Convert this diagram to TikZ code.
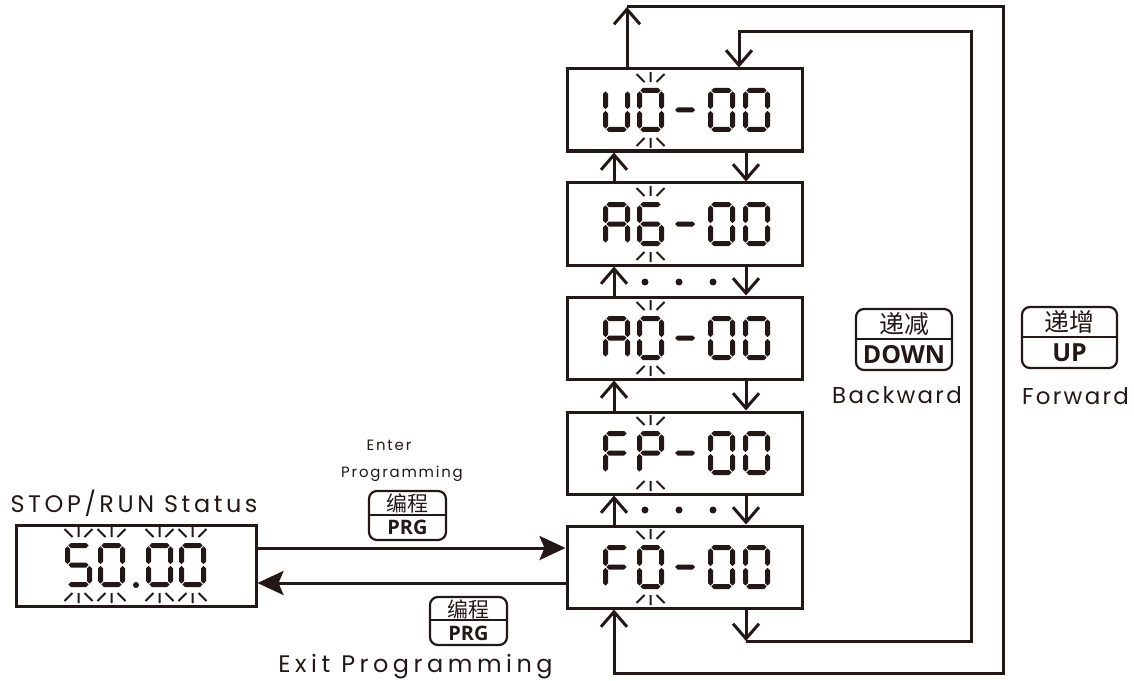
\documentclass[tikz,border=0pt]{standalone}
\usepackage{fontspec}
\usetikzlibrary{arrows.meta}
\newfontfamily\lblfont[LetterSpace=15]{Poppins}
\newfontfamily\exitfont[LetterSpace=19]{Poppins}
\newfontfamily\bfont[LetterSpace=10]{Poppins}
\newfontfamily\sfont[LetterSpace=12]{Poppins}
\newfontfamily\keyfont{Open Sans}
\newfontfamily\cjkfont{Noto Sans CJK SC}
\definecolor{ink}{RGB}{35,24,21}
% seven segment helpers
\newcommand\hseg[3]{\fill[ink] (#1,#3) -- (#1+2.5,#3-2.5) -- (#2-2.5,#3-2.5) -- (#2,#3) -- (#2-2.5,#3+2.5) -- (#1+2.5,#3+2.5) -- cycle;}
\newcommand\vseg[3]{\fill[ink] (#1,#2) -- (#1+2.5,#2+2.5) -- (#1+2.5,#3-2.5) -- (#1,#3) -- (#1-2.5,#3-2.5) -- (#1-2.5,#2+2.5) -- cycle;}
\newcommand\dsega{\hseg{3.3}{23.7}{2.5}}
\newcommand\dsegb{\vseg{24.5}{3.3}{21.2}}
\newcommand\dsegc{\vseg{24.5}{22.8}{40.7}}
\newcommand\dsegd{\hseg{3.3}{23.7}{41.5}}
\newcommand\dsege{\vseg{2.5}{22.8}{40.7}}
\newcommand\dsegf{\vseg{2.5}{3.3}{21.2}}
\newcommand\dsegg{\hseg{3.3}{23.7}{22}}
\newcommand\dgt[3]{\begin{scope}[shift={(#1,#2)}]\foreach \s in {#3}{\csname dseg\s\endcsname}\end{scope}}
\newcommand\blinkmarks[2]{\begin{scope}[shift={(#1,#2)}]
  \draw[blk] (-14,-36) -- (-6,-28) (0,-38) -- (0,-28) (14,-36) -- (6,-28)
             (-14,36) -- (-6,28) (0,38) -- (0,28) (14,36) -- (6,28);
  \end{scope}}
\newcommand\dispbox[4]{%
  \node[disp] (#1) at (684.5,#2) {};
  \dgt{603}{#2-22}{#3}
  \dgt{637}{#2-22}{#4}
  \hseg{675}{695}{#2}
  \dgt{708}{#2-22}{a,b,c,d,e,f}
  \dgt{743}{#2-22}{a,b,c,d,e,f}
  \blinkmarks{650.5}{#2}}
\newcommand\keyicon[9]{%
  \node[keyb, minimum width=#4bp, minimum height=#5bp] (#1) at (#2,#3) {};
  \draw[line width=2bp, draw=ink] ([yshift=0.8bp]#1.west) -- ([yshift=0.8bp]#1.east);
  \node[inner sep=0, text=ink, font=\cjkfont\fontsize{#8}{#8}\selectfont] (#1zh) at ([yshift={#5bp/4}]#1.center) {#6};
  \node[inner sep=0, text=ink, font=\keyfont\bfseries\fontsize{#9}{#9}\selectfont] (#1en) at ([yshift={-#5bp/4}]#1.center) {#7};}
\begin{document}
\begin{tikzpicture}[x=1bp,y=-1bp,
  disp/.style={draw=ink, line width=3bp, minimum width=235bp, minimum height=82bp, inner sep=0},
  keyb/.style={draw=ink, line width=2.2bp, rounded corners=8bp, inner sep=0},
  conn/.style={draw=ink, line width=3bp},
  barb/.style={conn, -{Straight Barb[length=15bp,width=26bp]}},
  main/.style={draw=ink, line width=3bp, -{Stealth[length=26bp,width=24bp,inset=5bp]}},
  lbl/.style={inner sep=0, text=ink, anchor=base},
  blk/.style={draw=ink, line width=2bp}]
\useasboundingbox (0,0) rectangle (1134,681);
% menu displays
\dispbox{u0}{110}{b,c,d,e,f}{a,b,c,d,e,f}
\dispbox{a6}{224}{a,b,c,e,f,g}{a,c,d,e,f,g}
\dispbox{a0}{338}{a,b,c,e,f,g}{a,b,c,d,e,f}
\dispbox{fp}{453}{a,e,f,g}{a,b,e,f,g}
\dispbox{f0}{567}{a,e,f,g}{a,b,c,d,e,f}
% status display
\node[disp, minimum width=239bp, minimum height=81bp] (st) at (136.5,565.5) {};
\dgt{65}{543}{a,c,d,f,g}
\dgt{98}{543}{a,b,c,d,e,f}
\dgt{146}{543}{a,b,c,d,e,f}
\dgt{179}{543}{a,b,c,d,e,f}
\fill[ink] (136,585) circle (3);
\blinkmarks{78.5}{565}
\blinkmarks{111.5}{565}
\blinkmarks{159.5}{565}
\blinkmarks{192.5}{565}
% dots
\foreach \xx in {645,679,713}{\fill[ink] (\xx,282) circle (3.5); \fill[ink] (\xx,510) circle (3.5);}
% up / down arrows between displays
\coordinate (L) at (614,0);
\coordinate (R) at (746,0);
\draw[barb] (a6.north -| L) -- (u0.south -| L);
\draw[barb] (a0.north -| L) -- (a6.south -| L);
\draw[barb] (fp.north -| L) -- (a0.south -| L);
\draw[barb] (f0.north -| L) -- (fp.south -| L);
\draw[barb] (u0.south -| R) -- (a6.north -| R);
\draw[barb] (a6.south -| R) -- (a0.north -| R);
\draw[barb] (a0.south -| R) -- (fp.north -| R);
\draw[barb] (fp.south -| R) -- (f0.north -| R);
% outer loop (forward)
\coordinate (o1) at (627,7);
\coordinate (o2) at (1003,7);
\coordinate (o3) at (1003,673);
\coordinate (o4) at (614,673);
\draw[barb] (u0.north -| o1) -- (o1);
\draw[conn, -{Straight Barb[length=15bp,width=26bp]}] (o1) -- (o2) -- (o3) -- (o4) -- (f0.south -| o4);
% inner loop (backward)
\coordinate (i1) at (746,641);
\coordinate (i2) at (971,641);
\coordinate (i3) at (971,32);
\coordinate (i4) at (739,32);
\draw[barb] (f0.south -| i1) -- (i1);
\draw[barb] (i1) -- (i2) -- (i3) -- (i4) -- (u0.north -| i4);
% enter / exit arrows
\coordinate (ya) at (0,548);
\coordinate (yb) at (0,583);
\draw[main] (st.east |- ya) -- (f0.west |- ya);
\draw[main] (f0.west |- yb) -- (st.east |- yb);
% keys
\keyicon{kin}{407.5}{515.5}{77}{49}{编程}{PRG}{21}{20}
\keyicon{kout}{468.5}{621}{77}{48}{编程}{PRG}{21}{20}
\keyicon{kdown}{904}{339.5}{96}{61}{递减}{DOWN}{25}{25}
\keyicon{kup}{1069.5}{337.5}{95}{61}{递增}{UP}{25}{25}
% labels
\node[lbl, font=\lblfont\fontsize{24}{28}\selectfont] (tst) at (134,512) {STOP/RUN Status};
\node[lbl, font=\sfont\fontsize{15}{18}\selectfont] (tent) at (389,450) {Enter};
\node[lbl, font=\sfont\fontsize{15}{18}\selectfont] (tprg) at (402,477) {Programming};
\node[lbl, font=\exitfont\fontsize{24}{28}\selectfont] (texit) at (415.5,672) {Exit Programming};
\node[lbl, font=\bfont\fontsize{23}{27}\selectfont] (tback) at (897,403) {Backward};
\node[lbl, font=\bfont\fontsize{23}{27}\selectfont] (tfwd) at (1075.5,404) {Forward};
\end{tikzpicture}
\end{document}
